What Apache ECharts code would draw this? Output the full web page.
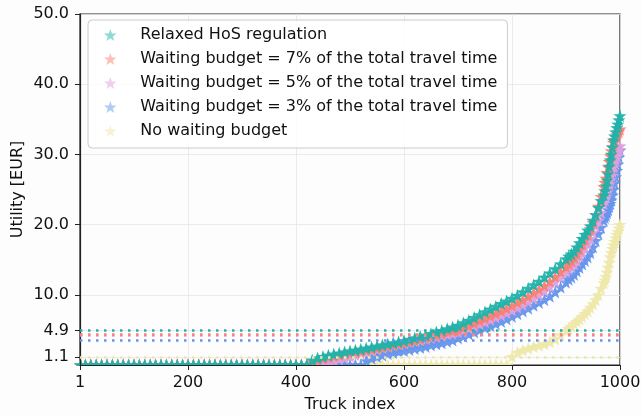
<!DOCTYPE html>
<html>
<head>
<meta charset="utf-8">
<script src="https://cdn.jsdelivr.net/npm/echarts@6/dist/echarts.min.js"></script>
<style>
  html, body { margin: 0; padding: 0; background: #fdfdfd; }
  #chart { width: 641px; height: 416px; }
</style>
</head>
<body>
<div id="chart"></div>
<script>
// truck index (sorted utilities, sampled)
const truckIdx = [1, 10, 20, 30, 40, 50, 60, 70, 80, 90,
  100, 110, 120, 130, 140, 150, 160, 170, 180, 190,
  200, 210, 220, 230, 240, 250, 260, 270, 280, 290,
  300, 310, 320, 330, 340, 350, 360, 370, 380, 390,
  400, 410, 420, 430, 440, 450, 460, 470, 480, 490,
  500, 510, 520, 530, 540, 550, 560, 570, 580, 590,
  600, 610, 620, 630, 640, 650, 660, 670, 680, 690,
  700, 710, 720, 730, 740, 750, 760, 770, 780, 790,
  800, 810, 820, 830, 840, 850, 860, 870, 880, 890,
  900, 905, 910, 915, 920, 925, 930, 935, 940, 945,
  950, 955, 960, 965, 970, 972, 974, 976, 978, 980,
  982, 984, 986, 988, 990, 992, 994, 996, 998, 1000];

const relaxed = [0, 0, 0, 0, 0, 0, 0, 0, 0, 0,
  0, 0, 0, 0, 0, 0, 0, 0, 0, 0,
  0, 0, 0, 0, 0, 0, 0, 0, 0, 0,
  0, 0, 0, 0, 0, 0, 0, 0, 0, 0,
  0, 0, 0, 0.7, 1.0, 1.2, 1.4, 1.55, 1.7, 1.85,
  2.0, 2.1, 2.25, 2.4, 2.55, 2.7, 2.85, 3.0, 3.15, 3.3,
  3.45, 3.65, 3.85, 4.05, 4.25, 4.45, 4.7, 4.9, 5.15, 5.4,
  5.65, 6.0, 6.35, 6.75, 7.15, 7.55, 7.95, 8.35, 8.75, 9.1,
  9.5, 9.9, 10.4, 10.9, 11.4, 11.9, 12.5, 13.1, 13.7, 14.4,
  15.1, 15.5, 15.8, 16.2, 16.8, 17.4, 18.0, 18.6, 19.2, 19.8,
  20.6, 21.4, 22.4, 23.4, 24.2, 24.8, 25.5, 26.3, 27.2, 28.3,
  29.2, 30.0, 31.0, 32.0, 32.6, 33.2, 33.8, 34.3, 34.9, 35.5];

const budget7 = [0, 0, 0, 0, 0, 0, 0, 0, 0, 0,
  0, 0, 0, 0, 0, 0, 0, 0, 0, 0,
  0, 0, 0, 0, 0, 0, 0, 0, 0, 0,
  0, 0, 0, 0, 0, 0, 0, 0, 0, 0,
  0, 0, 0, 0.3, 0.7, 0.95, 1.15, 1.3, 1.45, 1.6,
  1.7, 1.85, 2.0, 2.1, 2.25, 2.4, 2.55, 2.7, 2.85, 3.0,
  3.15, 3.3, 3.5, 3.7, 3.85, 4.05, 4.25, 4.45, 4.65, 4.85,
  5.05, 5.3, 5.6, 5.95, 6.3, 6.65, 7.0, 7.35, 7.7, 8.05,
  8.5, 8.9, 9.3, 9.8, 10.3, 10.8, 11.3, 11.9, 12.6, 13.3,
  14.0, 14.4, 14.8, 15.3, 15.8, 16.5, 17.2, 17.9, 18.6, 19.4,
  20.3, 21.4, 22.6, 24.0, 25.4, 26.0, 26.6, 27.4, 28.2, 29.0,
  29.8, 30.5, 31.1, 31.7, 32.1, 32.5, 32.8, 33.1, 33.3, 33.6];

const budget5 = [0, 0, 0, 0, 0, 0, 0, 0, 0, 0,
  0, 0, 0, 0, 0, 0, 0, 0, 0, 0,
  0, 0, 0, 0, 0, 0, 0, 0, 0, 0,
  0, 0, 0, 0, 0, 0, 0, 0, 0, 0,
  0, 0, 0, 0, 0, 0, 0.3, 0.6, 0.85, 1.05,
  1.25, 1.45, 1.65, 1.85, 2.05, 2.25, 2.45, 2.65, 2.85, 3.0,
  3.15, 3.3, 3.45, 3.6, 3.75, 3.9, 4.05, 4.2, 4.35, 4.5,
  4.7, 4.95, 5.25, 5.55, 5.85, 6.15, 6.45, 6.8, 7.1, 7.45,
  7.8, 8.2, 8.6, 9.05, 9.5, 10.0, 10.6, 11.2, 11.9, 12.6,
  13.3, 13.7, 14.0, 14.4, 14.9, 15.5, 16.1, 16.7, 17.3, 18.0,
  18.9, 19.8, 20.6, 21.7, 23.0, 23.5, 24.0, 24.6, 25.2, 25.8,
  26.4, 27.0, 27.6, 28.2, 28.8, 29.3, 29.8, 30.3, 30.7, 31.2];

const budget3 = [0, 0, 0, 0, 0, 0, 0, 0, 0, 0,
  0, 0, 0, 0, 0, 0, 0, 0, 0, 0,
  0, 0, 0, 0, 0, 0, 0, 0, 0, 0,
  0, 0, 0, 0, 0, 0, 0, 0, 0, 0,
  0, 0, 0, 0, 0, 0, 0, 0, 0, 0,
  0, 0, 0, 0.6, 0.95, 1.2, 1.4, 1.6, 1.75, 1.9,
  2.05, 2.2, 2.35, 2.5, 2.65, 2.85, 3.0, 3.15, 3.35, 3.55,
  3.85, 4.1, 4.4, 4.7, 5.0, 5.3, 5.6, 5.9, 6.2, 6.55,
  6.9, 7.3, 7.7, 8.1, 8.5, 8.9, 9.3, 9.8, 10.4, 11.1,
  11.8, 12.2, 12.5, 12.9, 13.4, 13.9, 14.4, 14.9, 15.4, 16.0,
  16.8, 17.7, 18.7, 19.6, 20.6, 21.0, 21.3, 21.7, 22.1, 22.6,
  23.0, 23.5, 24.2, 25.0, 25.9, 26.8, 27.7, 28.6, 29.6, 30.6];

const noBudget = [0, 0, 0, 0, 0, 0, 0, 0, 0, 0,
  0, 0, 0, 0, 0, 0, 0, 0, 0, 0,
  0, 0, 0, 0, 0, 0, 0, 0, 0, 0,
  0, 0, 0, 0, 0, 0, 0, 0, 0, 0,
  0, 0, 0, 0, 0, 0, 0, 0, 0, 0,
  0, 0, 0, 0, 0, 0, 0, 0, 0, 0,
  0, 0, 0, 0, 0, 0, 0, 0, 0, 0,
  0, 0, 0, 0, 0, 0, 0, 0, 0, 0,
  1.2, 1.8, 2.1, 2.35, 2.6, 2.8, 3.0, 3.3, 3.7, 4.3,
  4.9, 5.2, 5.5, 5.9, 6.2, 6.5, 6.9, 7.3, 7.7, 8.2,
  8.7, 9.3, 10.0, 10.9, 11.7, 12.1, 12.6, 13.2, 13.9, 14.6,
  15.4, 16.0, 16.6, 17.1, 17.6, 18.1, 18.6, 19.0, 19.5, 20.0];

// mean utility of each scenario (dotted lines)
const seriesNames = ['Relaxed HoS regulation',
  'Waiting budget = 7% of the total travel time',
  'Waiting budget = 5% of the total travel time',
  'Waiting budget = 3% of the total travel time',
  'No waiting budget'];
const seriesValues = [relaxed, budget7, budget5, budget3, noBudget];
const meanValues = [4.9, 4.45, 4.25, 3.55, 1.1];
const colors = ['#20B2AA', '#FA8072', '#DDA0DD', '#6495ED', '#EEE8AA'];
const yTicks = [1.1, 4.9, 10, 20, 30, 40, 50];

const star = 'path://M0,-10L2.35,-3.24L9.51,-3.09L3.8,1.24L5.88,8.09L0,4L-5.88,8.09L-3.8,1.24L-9.51,-3.09L-2.35,-3.24Z';
const FONT = 'DejaVu Sans';
const BG = '#fdfdfd';

const chart = echarts.init(document.getElementById('chart'));

// draw order: yellow at the bottom, teal on top
const series = [];
for (let k = seriesNames.length - 1; k >= 0; k--) {
  series.push({
    name: seriesNames[k],
    type: 'scatter',
    symbol: star,
    symbolSize: 13,
    itemStyle: { color: colors[k], opacity: 0.95 },
    data: truckIdx.map((x, i) => [x, seriesValues[k][i]]),
    markLine: {
      silent: true,
      symbol: ['none', 'none'],
      label: { show: false },
      lineStyle: { color: colors[k], width: 2.5, type: [2.5, 5.5], opacity: 1 },
      data: [{ yAxis: meanValues[k] }]
    }
  });
}

const gridLine = { show: true, lineStyle: { color: '#e6e6e6', width: 0.8 } };

const option = {
  animation: false,
  backgroundColor: BG,
  grid: {
    left: 80, right: 21, top: 14, bottom: 51,
    outerBoundsMode: 'none',
    show: true, borderColor: '#222', borderWidth: 1.2, backgroundColor: 'transparent'
  },
  // hides the part of the stars that hangs below the x axis
  graphic: [{
    type: 'rect', z: 3, silent: true,
    shape: { x: 74, y: 366, width: 560, height: 8 },
    style: { fill: BG }
  }],
  legend: {
    data: seriesNames,
    orient: 'vertical',
    left: 88, top: 20,
    padding: [7, 10, 9, 16],
    itemWidth: 40, itemHeight: 12, itemGap: 8,
    itemStyle: { opacity: 0.5 },
    backgroundColor: 'rgba(255,255,255,0.8)',
    borderColor: '#cccccc', borderWidth: 1, borderRadius: 4,
    textStyle: { fontFamily: FONT, fontSize: 16, color: '#111', padding: [0, 0, 0, 5] }
  },
  xAxis: [{
    type: 'value', z: 4,
    min: 0, max: 1000, interval: 200,
    name: 'Truck index', nameLocation: 'middle', nameGap: 32,
    nameTextStyle: { fontFamily: FONT, fontSize: 16, color: '#111' },
    axisLine: { lineStyle: { color: '#222', width: 1.2 } },
    axisTick: { length: 5, lineStyle: { color: '#222' } },
    axisLabel: {
      fontFamily: FONT, fontSize: 16, color: '#111', margin: 10,
      formatter: v => (v === 0 ? '1' : String(v))
    },
    splitLine: { show: false }
  }, {
    type: 'value', position: 'top', z: 0,
    min: 0, max: 1000, interval: 200,
    axisLine: { show: false }, axisTick: { show: false }, axisLabel: { show: false },
    splitLine: gridLine
  }],
  yAxis: [{
    type: 'value', z: 4,
    min: 0, max: 50,
    name: 'Utility [EUR]', nameLocation: 'middle', nameGap: 54,
    nameMoveOverlap: false,
    nameTextStyle: { fontFamily: FONT, fontSize: 16, color: '#111' },
    axisLine: { show: true, lineStyle: { color: '#222', width: 1.2 } },
    axisTick: { show: true, length: 5, lineStyle: { color: '#222' }, customValues: yTicks },
    axisLabel: {
      fontFamily: FONT, fontSize: 16, color: '#111', margin: 11,
      customValues: yTicks,
      formatter: v => v.toFixed(1)
    },
    splitLine: { show: false }
  }, {
    type: 'value', position: 'right', z: 0,
    min: 0, max: 50,
    axisLine: { show: false },
    axisTick: { show: false, customValues: yTicks },
    axisLabel: { show: false, customValues: yTicks },
    splitLine: gridLine
  }],
  series: series
};

chart.setOption(option);
</script>
</body>
</html>
